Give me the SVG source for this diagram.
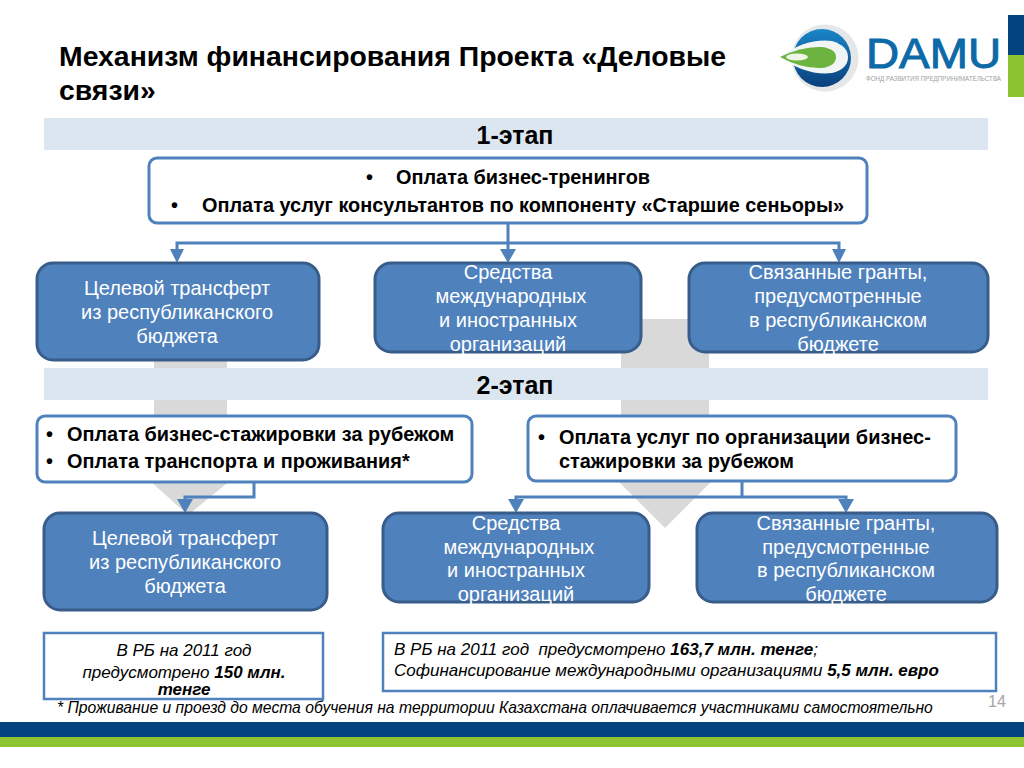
<svg xmlns="http://www.w3.org/2000/svg" width="1024" height="768" viewBox="0 0 1024 768">
<style>
text{font-family:"Liberation Sans",Arial,sans-serif}
.h{font-size:28.4px;font-weight:bold;fill:#000}
.st{font-size:25px;font-weight:bold;fill:#000;text-anchor:middle}
.b{font-size:19.9px;font-weight:bold;fill:#000}
.w{font-size:20px;fill:#fff;text-anchor:middle}
.n{fill:#4f81bd;stroke:#385d8a;stroke-width:3}
.o{fill:#fff;stroke:#4f81bd;stroke-width:3}
.r{fill:#fff;stroke:#4f81bd;stroke-width:2.5}
.i{font-size:17px;font-style:italic;fill:#000}
.c{fill:none;stroke:#4f81bd;stroke-width:3}
.band{fill:#dce6f1}
.tip{fill:#4f81bd}
</style>
<defs><linearGradient id="lg" x1="0" y1="0" x2="0" y2="1"><stop offset="0" stop-color="#1a86c7"/><stop offset="1" stop-color="#0a3f7c"/></linearGradient></defs>
<rect width="1024" height="768" fill="#fff"/>
<g id="background-arrows" fill="#d9d9d9">
<path d="M154 355H227V480H231L188 515L149 480H154Z"/>
<path d="M621 319H709V458H735L665 528L595 458H621Z"/>
</g>
<g id="title"><text class="h" x="59" y="66">Механизм финансирования Проекта «Деловые</text><text class="h" x="59" y="100">связи»</text></g>
<g id="logo">
<rect x="1008" y="15" width="16" height="40" fill="#03437f"/><rect x="1008" y="55" width="16" height="42" fill="#8dc530"/>
<circle cx="825" cy="58" r="33.5" fill="#e4e6e8"/><circle cx="822" cy="58" r="29" fill="url(#lg)"/>
<path d="M780 57Q806 38 832 41Q848 46 848 57Q848 69 832 73Q806 76 780 57Z" fill="#f2f5f5"/>
<path d="M780 57Q802 46 822 47Q836 49 836 57Q836 66 822 68Q802 69 780 57Z" fill="#6cb33f"/>
<ellipse cx="797" cy="57" rx="11" ry="3.5" fill="#eef5e6"/>
<text x="866" y="68" font-size="43" fill="#0d6aa8" stroke="#0d6aa8" stroke-width="1" textLength="135" lengthAdjust="spacingAndGlyphs">DAMU</text>
<text x="866" y="81" font-size="7" fill="#9a9fa3" textLength="135" lengthAdjust="spacingAndGlyphs">ФОНД РАЗВИТИЯ ПРЕДПРИНИМАТЕЛЬСТВА</text>
</g>
<g id="stage1"><rect class="band" x="44" y="118" width="944" height="32"/><text class="st" x="515" y="144">1-этап</text></g>
<g id="stage2"><rect class="band" x="44" y="368" width="944" height="32"/><text class="st" x="515" y="394">2-этап</text></g>
<g id="connectors">
<path class="c" d="M508 223V252M177 252V243H839V252"/>
<path class="tip" d="M170 249H184L177 263ZM500 249H516L508 263ZM832 249H846L839 263Z"/>
<path class="c" d="M254 482V497H185V503"/>
<path class="tip" d="M177 499H193L185 513Z"/>
<path class="c" d="M742 481V497M516 503V497H846V503"/>
<path class="tip" d="M508 499H524L516 513ZM838 499H854L846 513Z"/>
</g>
<g id="box-top"><rect class="o" x="149" y="158" width="718" height="65" rx="8"/>
<text class="b" x="366" y="184">•</text><text class="b" x="396" y="184">Оплата бизнес-тренингов</text>
<text class="b" x="171" y="212">•</text><text class="b" x="202" y="212">Оплата услуг консультантов по компоненту «Старшие сеньоры»</text></g>
<g id="n1"><rect class="n" x="37" y="263" width="282" height="97" rx="16"/><text class="w" x="177" y="295">Целевой трансферт</text><text class="w" x="177" y="319">из республиканского</text><text class="w" x="177" y="343">бюджета</text></g>
<g id="n2"><rect class="n" x="375" y="263" width="266" height="89" rx="16"/><text class="w" x="508" y="279">Средства</text><text class="w" x="511" y="303">международных</text><text class="w" x="508" y="327">и иностранных</text><text class="w" x="508" y="351">организаций</text></g>
<g id="n3"><rect class="n" x="689" y="263" width="299" height="89" rx="16"/><text class="w" x="838" y="279">Связанные гранты,</text><text class="w" x="838" y="303">предусмотренные</text><text class="w" x="838" y="327">в республиканском</text><text class="w" x="838" y="351">бюджете</text></g>
<g id="box-l"><rect class="o" x="37" y="416" width="435" height="66" rx="8"/>
<text class="b" x="46" y="441">•</text><text class="b" x="67" y="441">Оплата бизнес-стажировки за рубежом</text>
<text class="b" x="46" y="468">•</text><text class="b" x="67" y="468">Оплата транспорта и проживания*</text></g>
<g id="box-r"><rect class="o" x="528" y="416" width="428" height="65" rx="8"/>
<text class="b" x="538" y="444">•</text><text class="b" x="559" y="444">Оплата услуг по организации бизнес-</text>
<text class="b" x="559" y="468">стажировки за рубежом</text></g>
<g id="n4"><rect class="n" x="44" y="513" width="283" height="97" rx="16"/><text class="w" x="185" y="545">Целевой трансферт</text><text class="w" x="185" y="569">из республиканского</text><text class="w" x="185" y="593">бюджета</text></g>
<g id="n5"><rect class="n" x="383" y="513" width="266" height="89" rx="16"/><text class="w" x="516" y="530">Средства</text><text class="w" x="519" y="554">международных</text><text class="w" x="516" y="577">и иностранных</text><text class="w" x="516" y="601">организаций</text></g>
<g id="n6"><rect class="n" x="697" y="513" width="300" height="89" rx="16"/><text class="w" x="846" y="530">Связанные гранты,</text><text class="w" x="846" y="554">предусмотренные</text><text class="w" x="846" y="577">в республиканском</text><text class="w" x="846" y="601">бюджете</text></g>
<g id="note-l"><rect class="r" x="44" y="633" width="279" height="66"/>
<text class="i" x="184" y="656" text-anchor="middle">В РБ на 2011 год</text>
<text class="i" x="184" y="678" text-anchor="middle">предусмотрено <tspan font-weight="bold">150 млн.</tspan></text>
<text class="i" x="184" y="695" text-anchor="middle" font-weight="bold">тенге</text></g>
<g id="note-r"><rect class="r" x="383" y="633" width="613" height="58"/>
<text class="i" x="394" y="655" xml:space="preserve">В РБ на 2011 год  предусмотрено <tspan font-weight="bold">163,7 млн. тенге</tspan>;</text>
<text class="i" x="394" y="676">Софинансирование международными организациями <tspan font-weight="bold">5,5 млн. евро</tspan></text></g>
<text class="i" x="57" y="713" style="font-size:15.7px">* Проживание и проезд до места обучения на территории Казахстана оплачивается участниками самостоятельно</text>
<text x="988" y="707" font-size="16" fill="#a6a6a6">14</text>
<g id="footer"><rect y="722" width="1024" height="15" fill="#03437f"/><rect y="737" width="1024" height="10" fill="#8dc530"/></g>
</svg>
